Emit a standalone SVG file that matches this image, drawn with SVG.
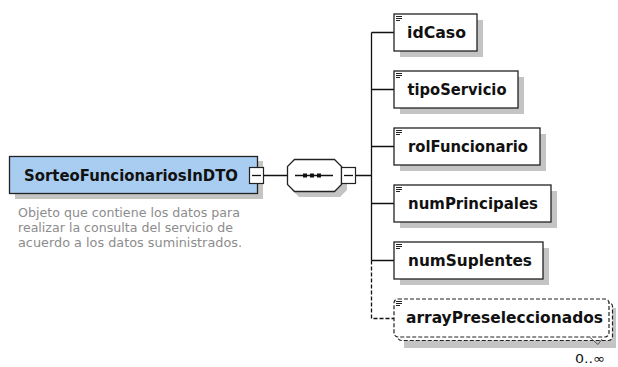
<svg xmlns="http://www.w3.org/2000/svg" width="618" height="367" viewBox="0 0 618 367">
<style>
.shadow{fill:#c4c4c4;stroke:none}
.box{fill:#fff;stroke:#222;stroke-width:1.3}
.dbox{fill:#fff;stroke:#222;stroke-width:1.2;stroke-dasharray:4 2}
.lbl{font-family:"DejaVu Sans",Verdana,sans-serif;font-weight:bold;font-size:15px;fill:#111}
.desc{font-family:"DejaVu Sans",Verdana,sans-serif;font-size:11.5px;fill:#8c8c8c}
.ln{stroke:#111;stroke-width:1.3;fill:none}
.dln{stroke:#111;stroke-width:1.3;fill:none;stroke-dasharray:4 2}
.ico{stroke:#222;stroke-width:1;fill:none}
</style>
<defs>
<g id="icon"><path class="ico" d="M0 0.5h6M0 2.5h6M0 4.5h4"/></g>
</defs>

<g id="connectors">
<path class="ln" d="M264 175.5H287M356 175.5H371.5"/>
<path class="ln" d="M371.5 32.5V260.5"/>
<path class="ln" d="M371.5 32.5H394M371.5 89.5H394M371.5 146.5H394M371.5 203.5H394M371.5 260.5H394"/>
<path class="dln" d="M371.5 260.5V318.5H394"/>
</g>

<g id="SorteoFuncionariosInDTO">
<rect class="shadow" x="15" y="161" width="248" height="38"/>
<rect x="9.5" y="156.5" width="248" height="37" fill="#a9cdf1" stroke="#222" stroke-width="1.3"/>
<text class="lbl" x="24" y="180.5" textLength="214" lengthAdjust="spacingAndGlyphs">SorteoFuncionariosInDTO</text>
<rect x="249.5" y="167.5" width="14" height="16" fill="#fff" stroke="#222" stroke-width="1.2"/>
<path class="ln" d="M252 175.5H261"/>
<text class="desc" x="18" y="217" textLength="222" lengthAdjust="spacingAndGlyphs">Objeto que contiene los datos para</text>
<text class="desc" x="18" y="232" textLength="215" lengthAdjust="spacingAndGlyphs">realizar la consulta del servicio de</text>
<text class="desc" x="18" y="246.5" textLength="224" lengthAdjust="spacingAndGlyphs">acuerdo a los datos suministrados.</text>
</g>

<g id="sequence">
<path class="shadow" d="M299 164H340L347 171V190L340 197H299L292 190V171Z"/>
<path d="M294.5 159.5H334.5L341.5 166.5V184.5L334.5 191.5H294.5L287.5 184.5V166.5Z" fill="#fff" stroke="#222" stroke-width="1.3"/>
<path class="ln" d="M295 175.5H333"/>
<rect x="303" y="173.5" width="4" height="4" fill="#111"/>
<rect x="310" y="173.5" width="4" height="4" fill="#111"/>
<rect x="317" y="173.5" width="4" height="4" fill="#111"/>
<rect x="341.5" y="167.5" width="14" height="16" fill="#fff" stroke="#222" stroke-width="1.2"/>
<path class="ln" d="M344 175.5H353"/>
</g>

<g id="idCaso">
<rect class="shadow" x="400" y="20" width="83" height="37"/>
<rect class="box" x="394" y="14" width="83" height="37"/>
<use href="#icon" x="396" y="16"/>
<text class="lbl" x="407" y="38" textLength="59" lengthAdjust="spacingAndGlyphs">idCaso</text>
</g>

<g id="tipoServicio">
<rect class="shadow" x="400" y="77" width="124" height="37"/>
<rect class="box" x="394" y="71" width="124" height="37"/>
<use href="#icon" x="396" y="73"/>
<text class="lbl" x="407.5" y="95" textLength="99" lengthAdjust="spacingAndGlyphs">tipoServicio</text>
</g>

<g id="rolFuncionario">
<rect class="shadow" x="400" y="134" width="146" height="37"/>
<rect class="box" x="394" y="128" width="146" height="37"/>
<use href="#icon" x="396" y="130"/>
<text class="lbl" x="408" y="152" textLength="120" lengthAdjust="spacingAndGlyphs">rolFuncionario</text>
</g>

<g id="numPrincipales">
<rect class="shadow" x="400" y="191" width="157" height="37"/>
<rect class="box" x="394" y="185" width="157" height="37"/>
<use href="#icon" x="396" y="187"/>
<text class="lbl" x="408" y="209" textLength="130" lengthAdjust="spacingAndGlyphs">numPrincipales</text>
</g>

<g id="numSuplentes">
<rect class="shadow" x="400" y="248" width="149" height="37"/>
<rect class="box" x="394" y="242" width="149" height="37"/>
<use href="#icon" x="396" y="244"/>
<text class="lbl" x="408" y="266" textLength="124" lengthAdjust="spacingAndGlyphs">numSuplentes</text>
</g>

<g id="arrayPreseleccionados">
<rect class="shadow" x="404" y="308" width="212" height="40"/>
<rect class="dbox" x="397.5" y="302.5" width="215" height="38" rx="4"/>
<rect class="dbox" x="394" y="299" width="215" height="38" rx="4"/>
<use href="#icon" x="396" y="301"/>
<text class="lbl" x="406" y="323" textLength="197" lengthAdjust="spacingAndGlyphs">arrayPreseleccionados</text>
<path d="M590 337.5L598 344.5L602 339" fill="none" stroke="#555" stroke-width="1"/>
<text x="575" y="363" font-family="DejaVu Sans,Verdana,sans-serif" font-size="13" fill="#111" textLength="30" lengthAdjust="spacingAndGlyphs">0..∞</text>
</g>
</svg>
